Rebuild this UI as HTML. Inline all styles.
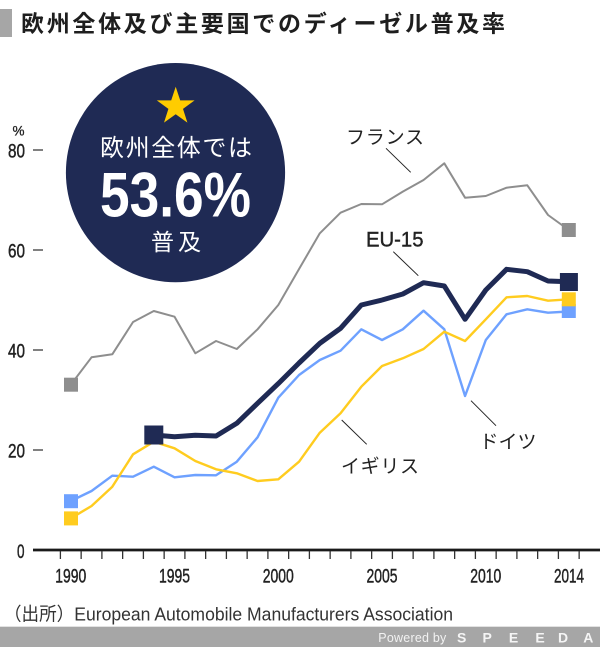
<!DOCTYPE html>
<html><head><meta charset="utf-8">
<style>
html,body{margin:0;padding:0;background:#fff;width:600px;height:666px;overflow:hidden;}
svg{display:block;}
.jp{font-family:"Liberation Sans","Noto Sans CJK JP",sans-serif;}
.num{font-family:"Liberation Sans Narrow","Liberation Sans",sans-serif;}
</style></head>
<body>
<svg width="600" height="666" viewBox="0 0 600 666" xmlns="http://www.w3.org/2000/svg">
  <!-- title -->
  <rect x="0" y="9" width="12" height="28" fill="#a6a6a6"/>
  <text class="jp" x="21" y="31.5" font-size="23" font-weight="bold" fill="#1e1e1e" textLength="484" lengthAdjust="spacing">欧州全体及び主要国でのディーゼル普及率</text>

  <!-- y axis labels & ticks -->
  <text class="num" x="18.5" y="135.5" font-size="13.5" fill="#222" stroke="#222" stroke-width="0.3" text-anchor="middle">%</text>
  <g class="num" font-size="19.5" fill="#222" stroke="#222" stroke-width="0.45" text-anchor="end">
    <text x="25" y="157.5" textLength="17" lengthAdjust="spacingAndGlyphs">80</text>
    <text x="25" y="257.5" textLength="17" lengthAdjust="spacingAndGlyphs">60</text>
    <text x="25" y="357.5" textLength="17" lengthAdjust="spacingAndGlyphs">40</text>
    <text x="25" y="457.5" textLength="17" lengthAdjust="spacingAndGlyphs">20</text>
    <text x="24.5" y="558" textLength="7.5" lengthAdjust="spacingAndGlyphs">0</text>
  </g>
  <g stroke="#555" stroke-width="1.5">
    <line x1="33" y1="150" x2="43" y2="150"/>
    <line x1="33" y1="250" x2="43" y2="250"/>
    <line x1="33" y1="350" x2="43" y2="350"/>
    <line x1="33" y1="450" x2="43" y2="450"/>
  </g>

  <!-- x axis -->
  <line x1="33" y1="550" x2="600" y2="550" stroke="#1a1a1a" stroke-width="2.8"/>
  <g stroke="#333" stroke-width="1.3">
    <line x1="60.4" y1="551" x2="60.4" y2="559"/><line x1="81.15" y1="551" x2="81.15" y2="559"/>
    <line x1="101.9" y1="551" x2="101.9" y2="559"/><line x1="122.65" y1="551" x2="122.65" y2="559"/>
    <line x1="143.4" y1="551" x2="143.4" y2="559"/><line x1="164.15" y1="551" x2="164.15" y2="559"/>
    <line x1="184.9" y1="551" x2="184.9" y2="559"/><line x1="205.65" y1="551" x2="205.65" y2="559"/>
    <line x1="226.4" y1="551" x2="226.4" y2="559"/><line x1="247.15" y1="551" x2="247.15" y2="559"/>
    <line x1="267.9" y1="551" x2="267.9" y2="559"/><line x1="288.65" y1="551" x2="288.65" y2="559"/>
    <line x1="309.4" y1="551" x2="309.4" y2="559"/><line x1="330.15" y1="551" x2="330.15" y2="559"/>
    <line x1="350.9" y1="551" x2="350.9" y2="559"/><line x1="371.65" y1="551" x2="371.65" y2="559"/>
    <line x1="392.4" y1="551" x2="392.4" y2="559"/><line x1="413.15" y1="551" x2="413.15" y2="559"/>
    <line x1="433.9" y1="551" x2="433.9" y2="559"/><line x1="454.65" y1="551" x2="454.65" y2="559"/>
    <line x1="475.4" y1="551" x2="475.4" y2="559"/><line x1="496.15" y1="551" x2="496.15" y2="559"/>
    <line x1="516.9" y1="551" x2="516.9" y2="559"/><line x1="537.65" y1="551" x2="537.65" y2="559"/>
    <line x1="558.4" y1="551" x2="558.4" y2="559"/><line x1="579.15" y1="551" x2="579.15" y2="559"/>
  </g>
  <g class="num" font-size="19.5" fill="#222" stroke="#222" stroke-width="0.45" text-anchor="middle">
    <text x="70.8" y="582.3" textLength="31" lengthAdjust="spacingAndGlyphs">1990</text>
    <text x="174.5" y="582.3" textLength="31" lengthAdjust="spacingAndGlyphs">1995</text>
    <text x="278.3" y="582.3" textLength="31" lengthAdjust="spacingAndGlyphs">2000</text>
    <text x="382" y="582.3" textLength="31" lengthAdjust="spacingAndGlyphs">2005</text>
    <text x="485.8" y="582.3" textLength="31" lengthAdjust="spacingAndGlyphs">2010</text>
    <text x="569" y="582.3" textLength="30" lengthAdjust="spacingAndGlyphs">2014</text>
  </g>

  <!-- circle badge -->
  <circle cx="175.5" cy="172.6" r="109.6" fill="#1f2a54"/>
  <polygon fill="#ffcc00" points="175.7,86.7 180.2,100.4 194.6,100.4 183.0,108.9 187.4,122.6 175.7,114.2 164.0,122.6 168.4,108.9 156.8,100.4 171.2,100.4"/>
  <text class="jp" x="100" y="156" font-size="24" fill="#fff" textLength="152" lengthAdjust="spacing">欧州全体では</text>
  <text x="100" y="216.7" font-family="'Liberation Sans Narrow','Liberation Sans',sans-serif" font-weight="bold" font-size="63" fill="#fff" textLength="151" lengthAdjust="spacingAndGlyphs">53.6%</text>
  <text class="jp" x="151" y="250" font-size="23" fill="#fff" textLength="50" lengthAdjust="spacing">普及</text>

  <!-- series -->
  <polyline fill="none" stroke="#8e8e8e" stroke-width="2" stroke-linejoin="round"
    points="70.8,384.7 91.55,357.3 112.3,354.3 133.05,322 153.8,311 174.55,316.7 195.3,353.3 216.05,341 236.8,349 257.55,329.3 278.3,305 299.05,269 319.8,233.3 340.55,212.7 361.3,204 382.05,204.3 402.8,191.6 423.55,180 444.3,163.3 465.05,197.7 485.8,196 506.55,187.7 527.3,185.3 548.05,215 568.8,230"/>
  <polyline fill="none" stroke="#6ea1ff" stroke-width="2.4" stroke-linejoin="round"
    points="70.8,501 91.55,491 112.3,475.7 133.05,476.7 153.8,466.7 174.55,477.3 195.3,475 216.05,475.3 236.8,461.7 257.55,437.3 278.3,397.7 299.05,375 319.8,360 340.55,350.7 361.3,329.3 382.05,340 402.8,329.3 423.55,310.7 444.3,329.3 465.05,396 485.8,340 506.55,314.3 527.3,309.3 548.05,312.7 568.8,311.5"/>
  <polyline fill="none" stroke="#ffcc1f" stroke-width="2.4" stroke-linejoin="round"
    points="70.8,518.3 91.55,506 112.3,486.7 133.05,454.3 153.8,441.7 174.55,448.3 195.3,461 216.05,469.3 236.8,473.3 257.55,481 278.3,479.3 299.05,461.7 319.8,432.7 340.55,413.3 361.3,386.7 382.05,366 402.8,358.3 423.55,349 444.3,331.7 465.05,341 485.8,319.3 506.55,297.3 527.3,296 548.05,300.7 568.8,299.3"/>
  <polyline fill="none" stroke="#1f2a54" stroke-width="5" stroke-linejoin="round"
    points="153.8,435 174.55,436.7 195.3,435.3 216.05,436 236.8,423.3 257.55,403.3 278.3,383.6 299.05,363 319.8,343.3 340.55,328.3 361.3,305 382.05,300 402.8,294 423.55,282.7 444.3,286 465.05,319.3 485.8,290 506.55,269.3 527.3,271.7 548.05,281 568.8,281.8"/>

  <!-- markers -->
  <rect x="64" y="377.7" width="14" height="14" fill="#8e8e8e"/>
  <rect x="64" y="494.2" width="14" height="14" fill="#6ea1ff"/>
  <rect x="64" y="511.4" width="14" height="14" fill="#ffcc1f"/>
  <rect x="144.3" y="425.5" width="19" height="19" fill="#1f2a54"/>
  <rect x="561.8" y="223" width="14" height="14" fill="#8e8e8e"/>
  <rect x="561.8" y="304" width="14" height="14" fill="#6ea1ff"/>
  <rect x="561.8" y="292.3" width="14" height="14" fill="#ffcc1f"/>
  <rect x="559.9" y="273" width="18" height="18" fill="#1f2a54"/>

  <!-- labels -->
  <g stroke="#222" stroke-width="1">
    <line x1="386" y1="148.3" x2="410.7" y2="172.3"/>
    <line x1="393.3" y1="251.7" x2="418.3" y2="275.7"/>
    <line x1="341.7" y1="420" x2="366.7" y2="444.3"/>
    <line x1="471" y1="400.7" x2="496" y2="425.7"/>
  </g>
  <g class="jp" font-size="19" fill="#222">
    <text x="346" y="143.5" textLength="78" lengthAdjust="spacing">フランス</text>
    <text x="341" y="472.5" textLength="78" lengthAdjust="spacing">イギリス</text>
    <text x="479.5" y="448" textLength="57" lengthAdjust="spacing">ドイツ</text>
  </g>
  <text x="366" y="246.7" font-family="'Liberation Sans',sans-serif" font-size="21" fill="#222" stroke="#222" stroke-width="0.4" textLength="57.5" lengthAdjust="spacingAndGlyphs">EU-15</text>

  <!-- source -->
  <text class="jp" x="4" y="620.5" font-size="18.5" fill="#333" textLength="449" lengthAdjust="spacingAndGlyphs">（出所）European Automobile Manufacturers Association</text>

  <!-- footer -->
  <rect x="0" y="626" width="600" height="1" fill="#e2e2e2"/>
  <rect x="0" y="627" width="600" height="20" fill="#a6a6a6"/>
  <text x="378.3" y="642" font-family="'Liberation Sans',sans-serif" font-size="12.5" fill="#f2f2f2" textLength="68" lengthAdjust="spacing">Powered by</text>
  <g font-family="'Liberation Sans',sans-serif" font-weight="bold" font-size="14" fill="#f5f5f5" text-anchor="middle">
    <text x="461.7" y="642.3">S</text>
    <text x="487.2" y="642.3">P</text>
    <text x="513.6" y="642.3">E</text>
    <text x="540" y="642.3">E</text>
    <text x="563" y="642.3">D</text>
    <text x="588.3" y="642.3">A</text>
  </g>
</svg>
</body></html>
